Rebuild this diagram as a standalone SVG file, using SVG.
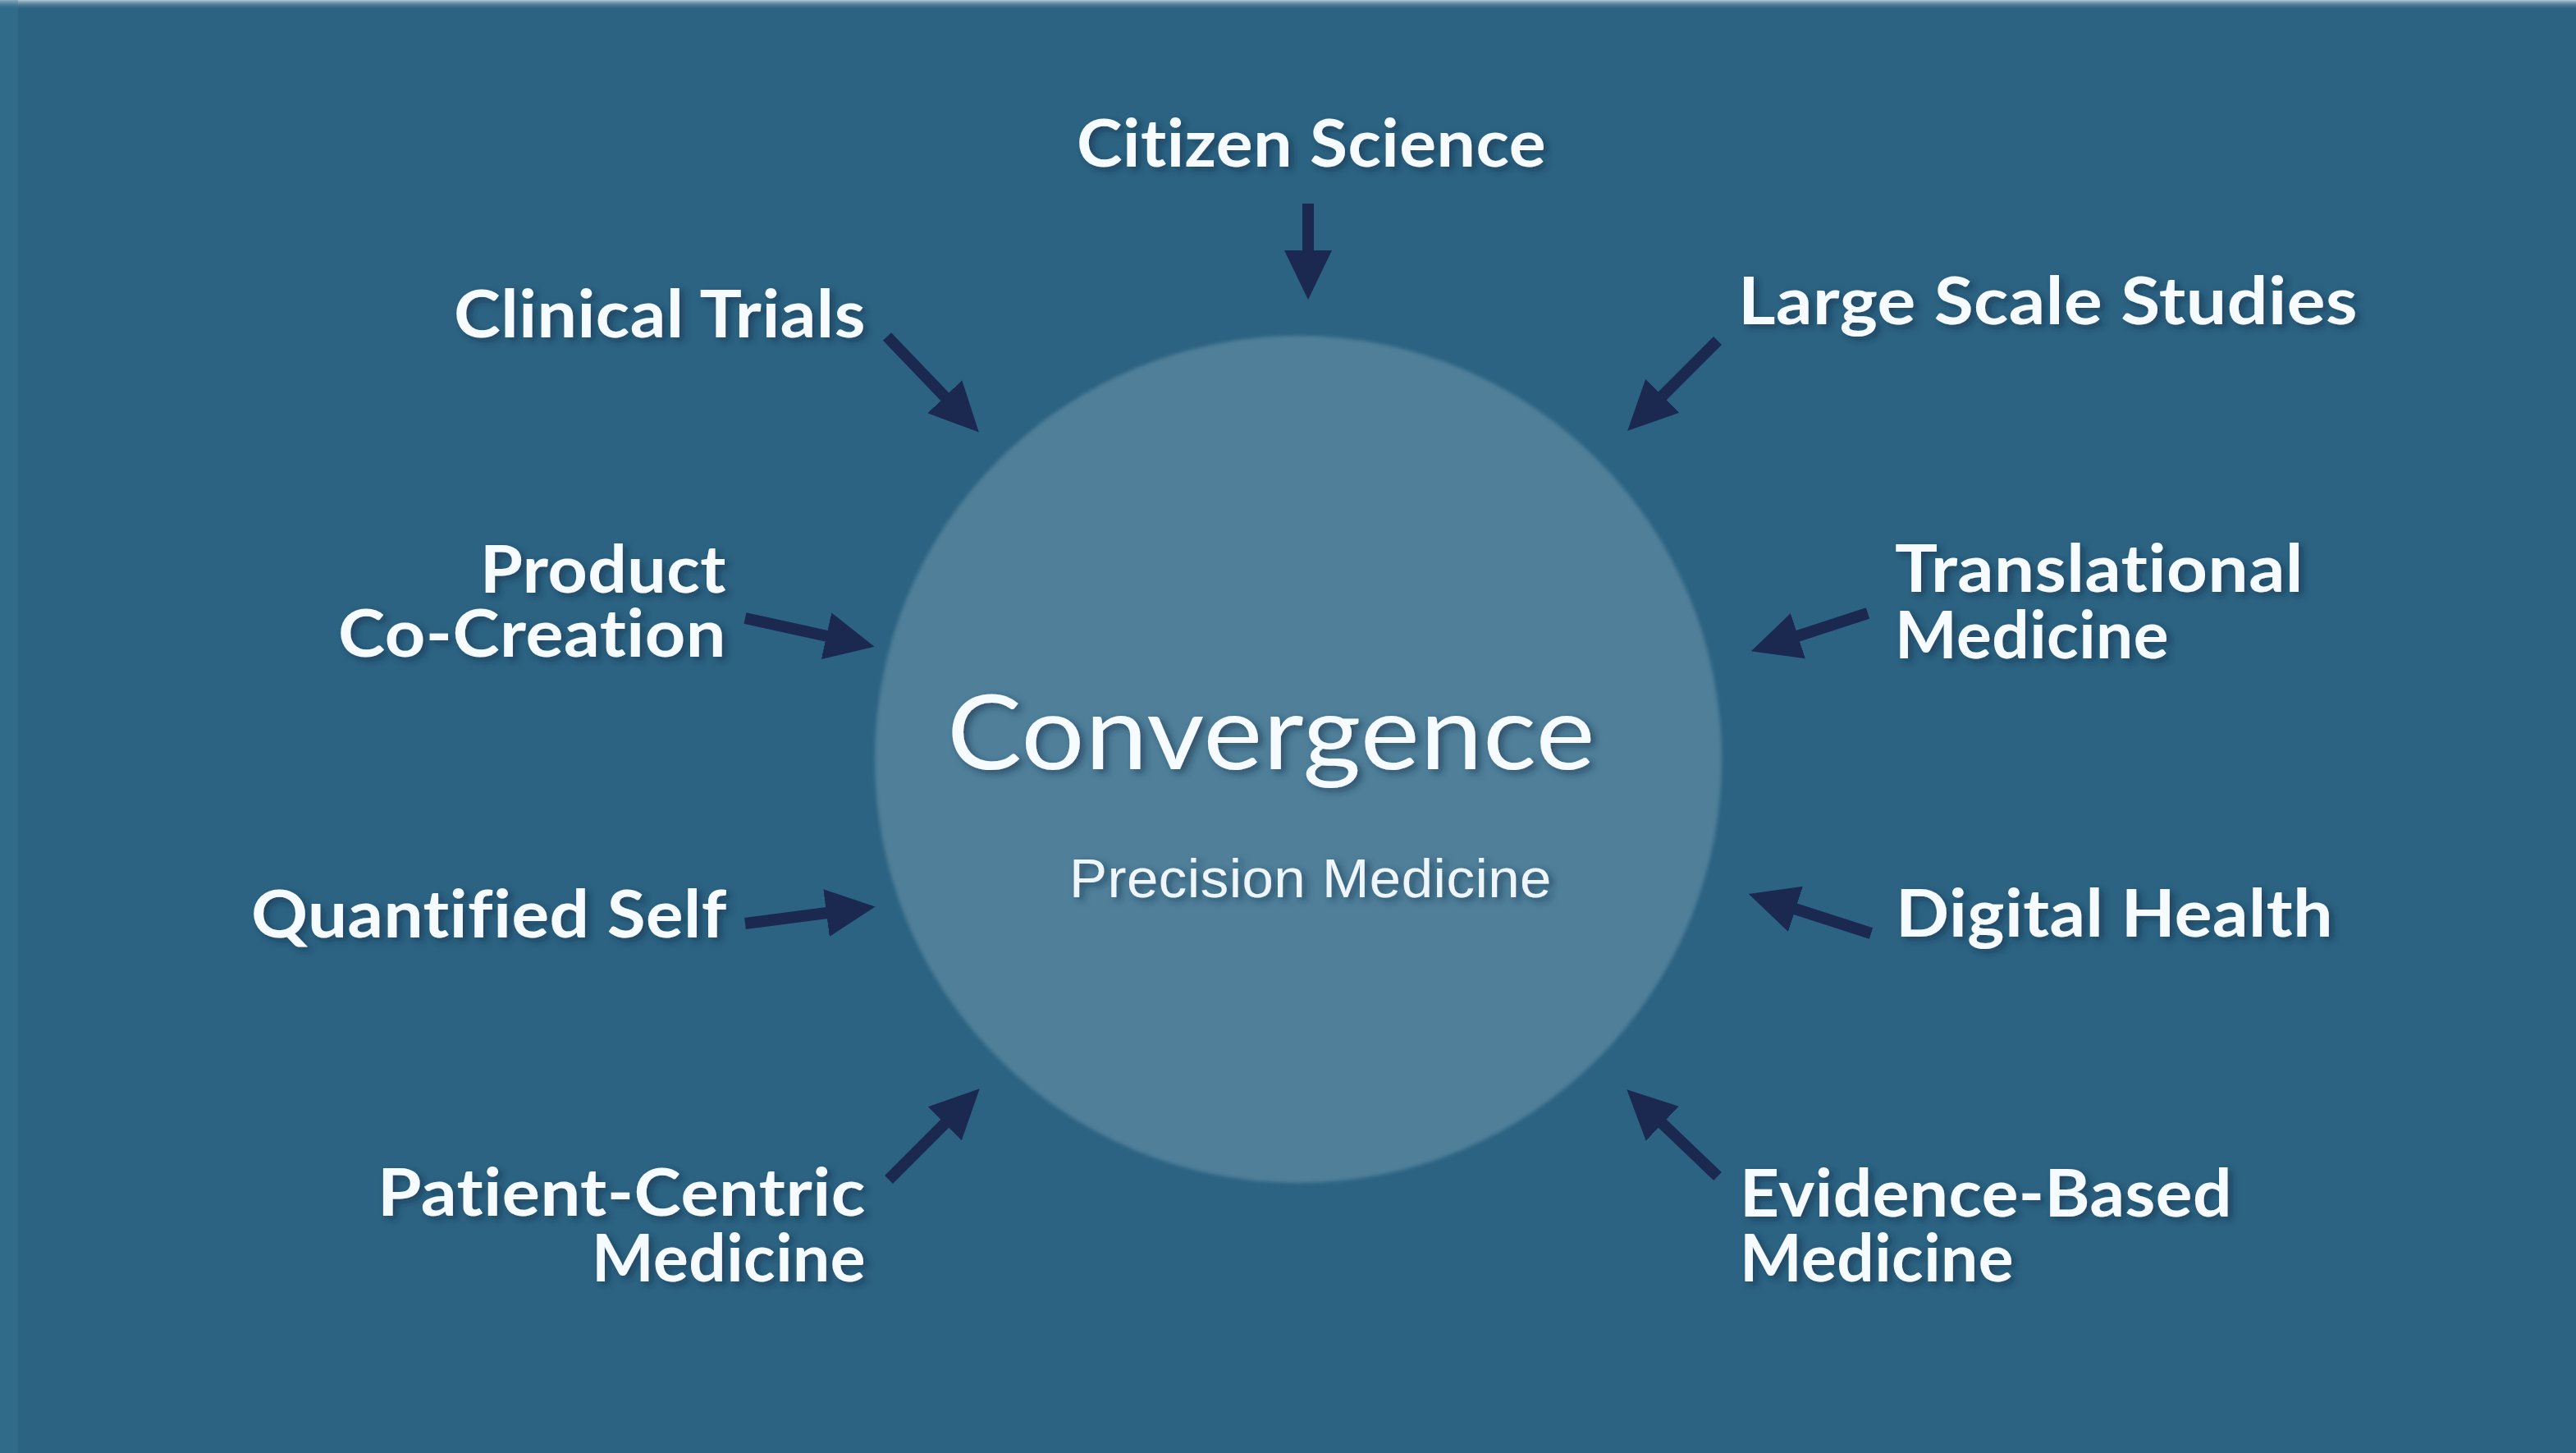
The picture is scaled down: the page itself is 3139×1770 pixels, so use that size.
<svg xmlns="http://www.w3.org/2000/svg" width="3139" height="1770" viewBox="0 0 3139 1770">
<defs>
<style>
text{font-variant-ligatures:none;font-feature-settings:"liga" 0,"clig" 0;letter-spacing:0.5px}
.lbl{font-family:Lato,"Noto Sans","Liberation Sans",sans-serif;font-weight:700;font-size:80px;fill:#f5fbff;filter:url(#sh)}
.big{font-family:Lato,"Noto Sans","Liberation Sans",sans-serif;font-weight:400;font-size:126px;fill:#f5fbff;filter:url(#sh)}
.sub{font-family:"Liberation Sans",Arial,sans-serif;font-weight:400;font-size:66px;fill:#eef6fb;filter:url(#sh)}
.arr{stroke:#1b2850;stroke-width:14;fill:none;marker-end:url(#head)}
</style>
<filter id="sh" x="-10%" y="-30%" width="120%" height="160%">
<feDropShadow dx="5" dy="4" stdDeviation="4" flood-color="#0e2b42" flood-opacity="0.55"/>
</filter>
<filter id="soft" x="-5%" y="-5%" width="110%" height="110%">
<feGaussianBlur stdDeviation="2"/>
</filter>
<marker id="head" markerUnits="userSpaceOnUse" markerWidth="64" markerHeight="64" viewBox="0 -32 64 64" refX="1" refY="0" orient="auto">
<path d="M0,-29 L60,0 L0,29 Z" fill="#1b2850"/>
</marker>
<linearGradient id="topg" x1="0" y1="0" x2="0" y2="1">
<stop offset="0" stop-color="#b5c9d4"/>
<stop offset="1" stop-color="#2c6382" stop-opacity="0"/>
</linearGradient>
</defs>
<rect x="0" y="0" width="3139" height="1770" fill="#2c6382"/>
<rect x="0" y="0" width="3139" height="12" fill="url(#topg)"/>
<rect x="0" y="0" width="22" height="1770" fill="#3a7c98" opacity="0.35"/>

<g id="center">
<circle cx="1582" cy="925" r="516" fill="#4f7f99" filter="url(#soft)"/>
<text class="big" x="1154" y="937" textLength="790" lengthAdjust="spacingAndGlyphs">Convergence</text>
<text class="sub" x="1303" y="1093" textLength="588" lengthAdjust="spacingAndGlyphs">Precision Medicine</text>
</g>

<g id="connectors">
<line class="arr" x1="1594" y1="248" x2="1594" y2="306"/>
<line class="arr" x1="1081" y1="410" x2="1152" y2="484"/>
<line class="arr" x1="2093" y1="415" x2="2025" y2="483"/>
<line class="arr" x1="908" y1="753" x2="1008" y2="775"/>
<line class="arr" x1="2276" y1="747" x2="2190" y2="775"/>
<line class="arr" x1="908" y1="1125" x2="1008" y2="1112"/>
<line class="arr" x1="2280" y1="1137" x2="2187" y2="1107"/>
<line class="arr" x1="1083" y1="1437" x2="1152" y2="1368"/>
<line class="arr" x1="2093" y1="1433" x2="2025" y2="1368"/>
</g>

<g id="citizen-science"><text class="lbl" x="1312" y="203" textLength="572" lengthAdjust="spacingAndGlyphs">Citizen Science</text></g>
<g id="clinical-trials"><text class="lbl" x="553" y="411" textLength="502" lengthAdjust="spacingAndGlyphs">Clinical Trials</text></g>
<g id="large-scale-studies"><text class="lbl" x="2118" y="395" textLength="755" lengthAdjust="spacingAndGlyphs">Large Scale Studies</text></g>
<g id="product-co-creation">
<text class="lbl" x="585" y="722" textLength="300" lengthAdjust="spacingAndGlyphs">Product</text>
<text class="lbl" x="412" y="800" textLength="473" lengthAdjust="spacingAndGlyphs">Co-Creation</text>
</g>
<g id="translational-medicine">
<text class="lbl" x="2309" y="721" textLength="498" lengthAdjust="spacingAndGlyphs">Translational</text>
<text class="lbl" x="2309" y="802" textLength="334" lengthAdjust="spacingAndGlyphs">Medicine</text>
</g>
<g id="quantified-self"><text class="lbl" x="306" y="1142" textLength="580" lengthAdjust="spacingAndGlyphs">Quantified Self</text></g>
<g id="digital-health"><text class="lbl" x="2310" y="1141" textLength="533" lengthAdjust="spacingAndGlyphs">Digital Health</text></g>
<g id="patient-centric-medicine">
<text class="lbl" x="460" y="1481" textLength="595" lengthAdjust="spacingAndGlyphs">Patient-Centric</text>
<text class="lbl" x="721" y="1561" textLength="334" lengthAdjust="spacingAndGlyphs">Medicine</text>
</g>
<g id="evidence-based-medicine">
<text class="lbl" x="2120" y="1482" textLength="600" lengthAdjust="spacingAndGlyphs">Evidence-Based</text>
<text class="lbl" x="2120" y="1561" textLength="334" lengthAdjust="spacingAndGlyphs">Medicine</text>
</g>
</svg>
